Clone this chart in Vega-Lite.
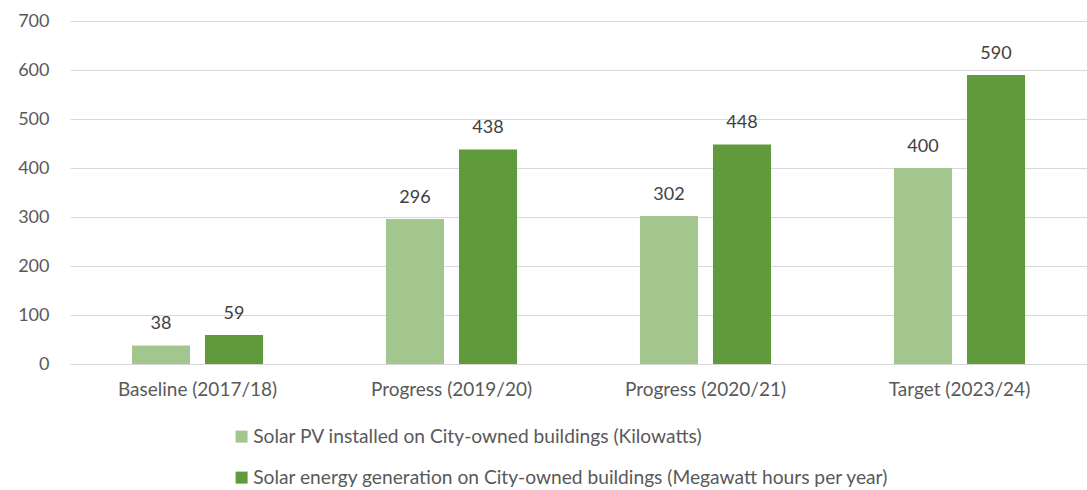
{
  "$schema": "https://vega.github.io/schema/vega-lite/v6.json",
  "width": 1017,
  "height": 343,
  "padding": {"left": 70, "top": 21, "right": 0, "bottom": 126},
  "autosize": {"type": "none"},
  "background": "white",
  "config": {
    "view": {"stroke": null},
    "font": "Lato",
    "axis": {"labelFontSize": 18, "labelColor": "#595959", "title": null},
    "legend": {"labelFontSize": 19.2, "labelColor": "#595959"}
  },
  "data": {
    "values": [
      {"period": "Baseline (2017/18)", "series": "Solar PV installed on City-owned buildings (Kilowatts)", "value": 38},
      {"period": "Baseline (2017/18)", "series": "Solar energy generation on City-owned buildings (Megawatt hours per year)", "value": 59},
      {"period": "Progress (2019/20)", "series": "Solar PV installed on City-owned buildings (Kilowatts)", "value": 296},
      {"period": "Progress (2019/20)", "series": "Solar energy generation on City-owned buildings (Megawatt hours per year)", "value": 438},
      {"period": "Progress (2020/21)", "series": "Solar PV installed on City-owned buildings (Kilowatts)", "value": 302},
      {"period": "Progress (2020/21)", "series": "Solar energy generation on City-owned buildings (Megawatt hours per year)", "value": 448},
      {"period": "Target (2023/24)", "series": "Solar PV installed on City-owned buildings (Kilowatts)", "value": 400},
      {"period": "Target (2023/24)", "series": "Solar energy generation on City-owned buildings (Megawatt hours per year)", "value": 590}
    ]
  },
  "encoding": {
    "x": {
      "field": "period", "type": "nominal", "sort": null,
      "scale": {"paddingInner": 0.484, "paddingOuter": 0.244},
      "axis": {"title": null, "labelAngle": 0, "labelFontSize": 19, "labelColor": "#595959", "labelPadding": 16, "domain": true, "domainColor": "#d9d9d9", "ticks": false}
    },
    "xOffset": {
      "field": "series", "type": "nominal", "sort": null,
      "scale": {"paddingInner": 0.2055, "paddingOuter": 0}
    },
    "y": {
      "field": "value", "type": "quantitative",
      "scale": {"domain": [0, 700]},
      "axis": {"title": null, "values": [0,100,200,300,400,500,600,700], "labelFontSize": 18, "labelColor": "#595959", "labelPadding": 21, "labelOverlap": false, "domain": false, "ticks": false, "gridColor": "#d9d9d9", "gridWidth": 1}
    }
  },
  "layer": [
    {
      "mark": {"type": "bar"},
      "encoding": {
        "color": {
          "field": "series", "type": "nominal", "sort": null,
          "scale": {"range": ["#A3C68F", "#619A3A"]},
          "legend": {
            "title": null, "orient": "none", "legendX": 162, "legendY": 406, "direction": "vertical",
            "symbolType": "square", "symbolSize": 144, "symbolStrokeWidth": 0,
            "labelFontSize": 19.2, "labelColor": "#595959", "rowPadding": 21, "labelOffset": 2, "labelLimit": 900
          }
        }
      }
    },
    {
      "mark": {"type": "text", "baseline": "bottom", "dy": -12, "fontSize": 18, "color": "#404040"},
      "encoding": {
        "text": {"field": "value", "type": "quantitative"}
      }
    }
  ]
}
